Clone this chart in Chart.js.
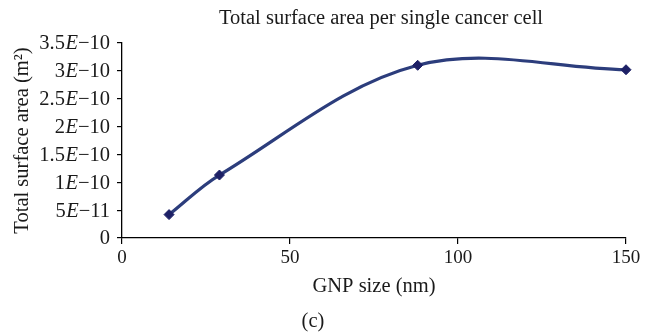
<!DOCTYPE html>
<html>
<head>
<meta charset="utf-8">
<script src="https://cdn.jsdelivr.net/npm/chart.js@4.4.0/dist/chart.umd.min.js"></script>
<style>
  html, body { margin: 0; padding: 0; background: #fff; }
</style>
</head>
<body>
<canvas id="chart" width="645" height="333"></canvas>
<script>
const gnpSize = [14, 29, 88, 150];
const surfaceArea = [4.2e-11, 1.13e-10, 3.1e-10, 3.02e-10];
const xTicks = [0, 50, 100, 150];
const yTicks = [0, 5e-11, 1e-10, 1.5e-10, 2e-10, 2.5e-10, 3e-10, 3.5e-10];
const yTickLabels = ["0", "5E−11", "1E−10", "1.5E−10", "2E−10", "2.5E−10", "3E−10", "3.5E−10"];
const chartTitle = "Total surface area per single cancer cell";
const xTitle = "GNP size (nm)";
const yTitle = "Total surface area (m²)";
const panelLabel = "(c)";

const serif = "'Liberation Serif', 'DejaVu Serif', serif";
const textColor = "#1a1a1a";
const fontSize = 19;
const bigSize = 20.5;

// draws title, panel label and the y tick labels (italic E)
const labelsPlugin = {
  id: "labels",
  afterDraw(chart) {
    const ctx = chart.ctx;
    const area = chart.chartArea;
    const yScale = chart.scales.y;
    ctx.save();
    ctx.fillStyle = textColor;
    ctx.textBaseline = "middle";

    const normal = bigSize + "px " + serif;
    const italic = "italic " + bigSize + "px " + serif;
    yTicks.forEach((v, i) => {
      const py = yScale.getPixelForValue(v) + 1;
      let x = area.left - 12;
      const parts = yTickLabels[i].split("E");
      ctx.textAlign = "right";
      if (parts.length === 2) {
        ctx.font = normal;
        ctx.fillText(parts[1], x, py);
        x -= ctx.measureText(parts[1]).width;
        ctx.font = italic;
        ctx.fillText("E", x, py);
        x -= ctx.measureText("E").width + 0.5;
        ctx.font = normal;
        ctx.fillText(parts[0], x, py);
      } else {
        ctx.font = normal;
        ctx.fillText(parts[0], x, py);
      }
    });

    ctx.font = normal;
    ctx.textAlign = "center";
    ctx.fillText(chartTitle, (area.left + area.right) / 2 + 7, 19);
    ctx.fillText(panelLabel, 313, 322);
    ctx.restore();
  }
};

new Chart(document.getElementById("chart"), {
  type: "line",
  data: {
    datasets: [{
      data: gnpSize.map((x, i) => ({ x: x, y: surfaceArea[i] })),
      borderColor: "#2c3d7c",
      borderWidth: 3.2,
      tension: 0.35,
      pointStyle: "rectRot",
      pointRadius: 5,
      pointBackgroundColor: "#1d2066",
      pointBorderColor: "#1d2066",
      pointBorderWidth: 1,
      clip: false,
      fill: false
    }]
  },
  plugins: [labelsPlugin],
  options: {
    responsive: false,
    animation: false,
    layout: { padding: { top: 43, right: 19, bottom: 30, left: 0 } },
    plugins: {
      legend: { display: false },
      title: { display: false },
      tooltip: { enabled: false }
    },
    scales: {
      x: {
        type: "linear",
        min: 0,
        max: 150,
        afterBuildTicks: (s) => { s.ticks = xTicks.map(v => ({ value: v })); },
        afterFit: (s) => { s.height = 65; },
        grid: { drawOnChartArea: false, tickLength: 6, color: "#000", lineWidth: 1.2 },
        border: { color: "#000", width: 1.3 },
        ticks: { color: textColor, font: { family: serif, size: fontSize }, padding: 3, maxRotation: 0 },
        title: { display: true, text: xTitle, color: textColor, font: { family: serif, size: bigSize }, padding: { top: 0, bottom: 4 } }
      },
      y: {
        type: "linear",
        min: 0,
        max: 3.5e-10,
        afterBuildTicks: (s) => { s.ticks = yTicks.map(v => ({ value: v })); },
        afterFit: (s) => { s.width = 122; },
        grid: { drawOnChartArea: false, tickLength: 5, color: "#000", lineWidth: 1.2 },
        border: { color: "#000", width: 1.3 },
        ticks: { color: "rgba(0,0,0,0)", font: { family: serif, size: fontSize }, callback: (v, i) => yTickLabels[i] },
        title: { display: true, text: yTitle, color: textColor, font: { family: serif, size: bigSize }, padding: { top: 10, bottom: 0 } }
      }
    }
  }
});
</script>
</body>
</html>
